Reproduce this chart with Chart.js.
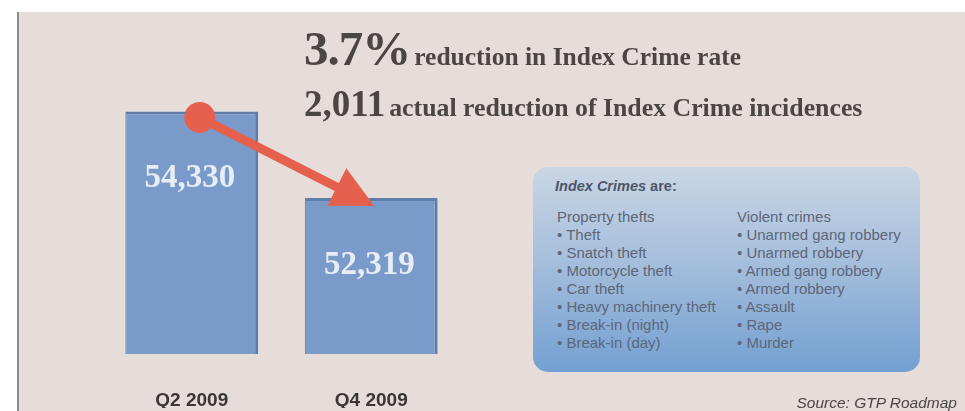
<!DOCTYPE html>
<html>
<head>
<meta charset="utf-8">
<script src="https://cdn.jsdelivr.net/npm/chart.js@4.4.1/dist/chart.umd.min.js"></script>
<style>
  html, body { margin: 0; padding: 0; }
  body { width: 965px; height: 411px; overflow: hidden; background: #ffffff; position: relative; }
  #paper { position: absolute; left: 17px; top: 12px; width: 948px; height: 399px; background: #e6dcd9; border-left: 2px solid #8f8a88; }
  #wrap { position: absolute; left: 0; top: 0; width: 965px; height: 411px; }
  .hd { position: absolute; font-family: "Liberation Serif", "DejaVu Serif", serif; font-weight: bold; color: #4b4644; white-space: nowrap; }
  #h1 { left: 304px; top: 20px; }
  #h1 .big { font-size: 49px; letter-spacing: -1px; }
  #h1 .small { font-size: 25.5px; }
  #h2 { left: 304px; top: 82px; }
  #h2 .big { font-size: 37px; }
  #h2 .small { font-size: 25.8px; }
  #box { position: absolute; left: 533px; top: 167px; width: 387px; height: 205px; border-radius: 15px;
         background: linear-gradient(to bottom, #c9d6e5 0%, #a6bfdc 45%, #73a0d2 100%);
         font-family: "Liberation Sans", Arial, sans-serif; color: #5d6678; }
  #box .ttl { position: absolute; left: 22px; top: 11px; font-size: 14.5px; font-weight: bold; color: #4f5566; }
  #box .col { position: absolute; top: 41px; font-size: 15px; line-height: 18px; }
  #c1 { left: 24px; }
  #c2 { left: 204px; }
  #src { position: absolute; right: 8px; top: 394px; font-family: "Liberation Sans", Arial, sans-serif; font-style: italic; font-size: 15.5px; color: #4a4646; }
</style>
</head>
<body>
<div id="paper"></div>
<div id="wrap"><canvas id="chart" width="965" height="411"></canvas></div>
<div class="hd" id="h1"><span class="big">3.7%</span> <span class="small">reduction in Index Crime rate</span></div>
<div class="hd" id="h2"><span class="big">2,011</span> <span class="small">actual reduction of Index Crime incidences</span></div>
<div id="box">
  <div class="ttl"><i>Index Crimes</i> are:</div>
  <div class="col" id="c1"></div>
  <div class="col" id="c2"></div>
</div>
<div id="src">Source: GTP Roadmap</div>
<script>
// ---- data ----
const categories = ['Q2 2009', 'Q4 2009'];
const indexCrimes = [54330, 52319];
const propertyThefts = ['Theft', 'Snatch theft', 'Motorcycle theft', 'Car theft', 'Heavy machinery theft', 'Break-in (night)', 'Break-in (day)'];
const violentCrimes = ['Unarmed gang robbery', 'Unarmed robbery', 'Armed gang robbery', 'Armed robbery', 'Assault', 'Rape', 'Murder'];

function fillCol(id, head, items) {
  const el = document.getElementById(id);
  let html = '<div>' + head + '</div>';
  items.forEach(t => { html += '<div>\u2022 ' + t + '</div>'; });
  el.innerHTML = html;
}
fillCol('c1', 'Property thefts', propertyThefts);
fillCol('c2', 'Violent crimes', violentCrimes);

const RED = '#e5604d';

const arrowPlugin = {
  id: 'arrowAndLabels',
  afterDatasetsDraw(chart) {
    const ctx = chart.ctx;
    const bars = chart.getDatasetMeta(0).data;
    // value labels inside bars
    ctx.save();
    ctx.fillStyle = 'rgba(255,255,255,0.82)';
    ctx.font = 'bold 33px "Liberation Serif", "DejaVu Serif", serif';
    ctx.textAlign = 'center';
    ctx.textBaseline = 'middle';
    bars.forEach((b, i) => {
      ctx.fillText(indexCrimes[i].toLocaleString('en-US'), b.x - 2, b.y + 67);
    });
    ctx.restore();
    // arrow from first bar top to second bar top
    const pts = chart.getDatasetMeta(1).data;
    const a = pts[0], b = pts[1];
    const x1 = a.x + 8, y1 = a.y + 6;
    const x2 = b.x + 3, y2 = b.y + 8;
    const ang = Math.atan2(y2 - y1, x2 - x1);
    const headLen = 42, headW = 21;
    const bx = x2 - headLen * Math.cos(ang), by = y2 - headLen * Math.sin(ang);
    ctx.save();
    ctx.strokeStyle = RED;
    ctx.fillStyle = RED;
    ctx.lineWidth = 9;
    ctx.beginPath();
    ctx.moveTo(x1, y1);
    ctx.lineTo(bx + 2 * Math.cos(ang), by + 2 * Math.sin(ang));
    ctx.stroke();
    ctx.beginPath();
    ctx.moveTo(x2, y2);
    ctx.lineTo(bx + headW * Math.sin(ang), by - headW * Math.cos(ang));
    ctx.lineTo(bx - headW * Math.sin(ang), by + headW * Math.cos(ang));
    ctx.closePath();
    ctx.fill();
    ctx.beginPath();
    ctx.arc(x1, y1, 15.5, 0, Math.PI * 2);
    ctx.fill();
    ctx.restore();
  }
};

new Chart(document.getElementById('chart'), {
  type: 'bar',
  data: {
    labels: categories,
    datasets: [
      {
        label: 'Index crime incidences',
        data: indexCrimes,
        backgroundColor: '#7a9bc9',
        borderColor: '#5e7fac',
        borderWidth: { left: 1, top: 3, right: 3, bottom: 3 },
        borderSkipped: false,
        categoryPercentage: 1.0,
        barPercentage: 0.74
      },
      {
        type: 'line',
        label: 'Change',
        data: indexCrimes,
        showLine: false,
        pointRadius: 0,
        borderColor: RED
      }
    ]
  },
  options: {
    responsive: false,
    animation: false,
    devicePixelRatio: 1,
    layout: { padding: { left: 102, right: 504, top: 61, bottom: 3 } },
    plugins: { legend: { display: false }, tooltip: { enabled: false }, title: { display: false } },
    scales: {
      x: {
        grid: { display: false },
        border: { display: false },
        afterFit(scale) { scale.height = 54; },
        ticks: { color: '#3a3636', padding: 27, maxRotation: 0, font: { family: 'Liberation Sans, Arial, sans-serif', size: 19, weight: 'bold' } }
      },
      y: { display: false, min: 48700, max: 55500 }
    }
  },
  plugins: [arrowPlugin]
});
</script>
</body>
</html>
